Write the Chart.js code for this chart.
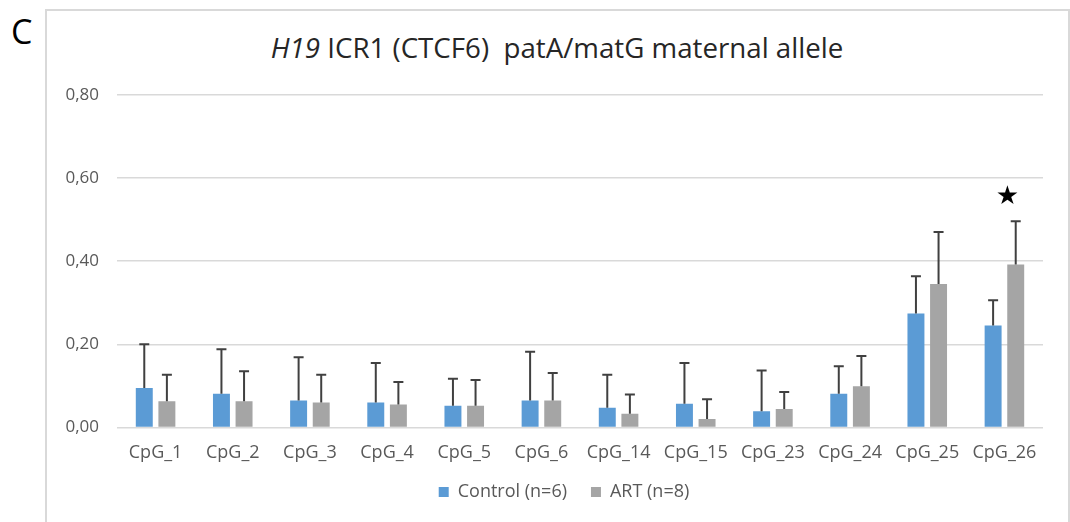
<!DOCTYPE html>
<html>
<head>
<meta charset="utf-8">
<script src="https://cdn.jsdelivr.net/npm/chart.js@4.4.0/dist/chart.umd.min.js"></script>
<style>
  body { margin: 0; background: #fff; width: 1070px; height: 522px; overflow: hidden; position: relative; font-family: "Open Sans", sans-serif; }
  #frame { position: absolute; left: 45px; top: 9px; width: 1021px; height: 520px; border: 2px solid #d9d9d9; border-bottom: none; }
  #letter { position: absolute; left: 11px; top: 8px; font-size: 34px; color: #000; }
  #title { position: absolute; left: 46px; width: 1022px; top: 28px; text-align: center; font-size: 27.7px; color: #262626; }
  #wrap { position: absolute; left: 0; top: 0; width: 1085px; height: 522px; }
</style>
</head>
<body>
<div id="frame"></div>
<div id="letter">C</div>
<div id="title"><i>H19</i> ICR1 (CTCF6)&nbsp; patA/matG maternal allele</div>
<div id="wrap"><canvas id="chart"></canvas></div>
<script>
const categories = ['CpG_1', 'CpG_2', 'CpG_3', 'CpG_4', 'CpG_5', 'CpG_6', 'CpG_14', 'CpG_15', 'CpG_23', 'CpG_24', 'CpG_25', 'CpG_26'];
const controlMean = [0.095, 0.081, 0.065, 0.060, 0.052, 0.065, 0.047, 0.057, 0.039, 0.081, 0.274, 0.245];
const controlSD   = [0.105, 0.107, 0.104, 0.095, 0.065, 0.117, 0.080, 0.098, 0.098, 0.066, 0.090, 0.061];
const artMean     = [0.063, 0.063, 0.060, 0.055, 0.052, 0.065, 0.033, 0.020, 0.044, 0.099, 0.345, 0.392];
const artSD       = [0.064, 0.072, 0.067, 0.054, 0.062, 0.066, 0.046, 0.048, 0.041, 0.073, 0.125, 0.104];
const yTicks = [0, 0.2, 0.4, 0.6, 0.8];
const starAt = 11; // significant CpG (index)
const starValue = 0.553;

const textColor = '#595959';

// upward error bars with a cap
const errorBars = {
  id: 'errorBars',
  afterDatasetsDraw(chart) {
    const ctx = chart.ctx;
    const y = chart.scales.y;
    ctx.save();
    ctx.strokeStyle = '#404040';
    ctx.lineWidth = 2;
    chart.data.datasets.forEach((ds, i) => {
      const meta = chart.getDatasetMeta(i);
      meta.data.forEach((bar, j) => {
        const top = y.getPixelForValue(ds.data[j] + ds.sd[j]);
        ctx.beginPath();
        ctx.moveTo(bar.x, bar.y);
        ctx.lineTo(bar.x, top);
        ctx.moveTo(bar.x - 5, top);
        ctx.lineTo(bar.x + 5, top);
        ctx.stroke();
      });
    });
    // significance star
    const x = chart.scales.x.getPixelForValue(starAt) + 3;
    ctx.fillStyle = '#000';
    ctx.font = '26px "DejaVu Sans"';
    ctx.textAlign = 'center';
    ctx.textBaseline = 'middle';
    ctx.fillText('\u2605', x, y.getPixelForValue(starValue));
    ctx.restore();
  }
};

new Chart(document.getElementById('chart'), {
  type: 'bar',
  data: {
    labels: categories,
    datasets: [
      { label: 'Control (n=6)', data: controlMean, sd: controlSD, backgroundColor: '#5b9bd5' },
      { label: 'ART (n=8)', data: artMean, sd: artSD, backgroundColor: '#a5a5a5' }
    ]
  },
  options: {
    responsive: true,
    maintainAspectRatio: false,
    animation: false,
    categoryPercentage: 0.586,
    barPercentage: 0.75,
    layout: { padding: { top: 95, bottom: 11, left: 58, right: 15 } },
    plugins: {
      title: { display: false },
      tooltip: { enabled: false },
      legend: {
        position: 'bottom',
        labels: {
          boxWidth: 10, boxHeight: 10, padding: 12,
          color: textColor,
          font: { family: '"Open Sans"', size: 18 },
          // a little extra room after the first entry, as in the original
          generateLabels(chart) {
            const items = Chart.defaults.plugins.legend.labels.generateLabels(chart);
            items[0].text += '\u2002\u2009';
            return items;
          }
        }
      }
    },
    scales: {
      x: {
        grid: { display: false },
        border: { display: false },
        ticks: { color: textColor, padding: 7, maxRotation: 0, font: { family: '"Open Sans"', size: 18 } }
      },
      y: {
        min: 0, max: 0.8,
        afterBuildTicks(s) { s.ticks = yTicks.map(v => ({ value: v })); },
        afterFit(s) { s.width = 59; },
        grid: { color: '#d9d9d9', lineWidth: 1.5, drawTicks: false },
        border: { display: false },
        ticks: {
          color: textColor, padding: 18,
          font: { family: '"Open Sans"', size: 17 },
          callback: v => v.toFixed(2).replace('.', ',')
        }
      },
      // empty spacer on the right so the legend centres like the original
      spacer: {
        position: 'right',
        afterFit(s) { s.width = 27; },
        grid: { display: false },
        border: { display: false },
        ticks: { display: false }
      }
    }
  },
  plugins: [errorBars]
});
</script>
</body>
</html>
